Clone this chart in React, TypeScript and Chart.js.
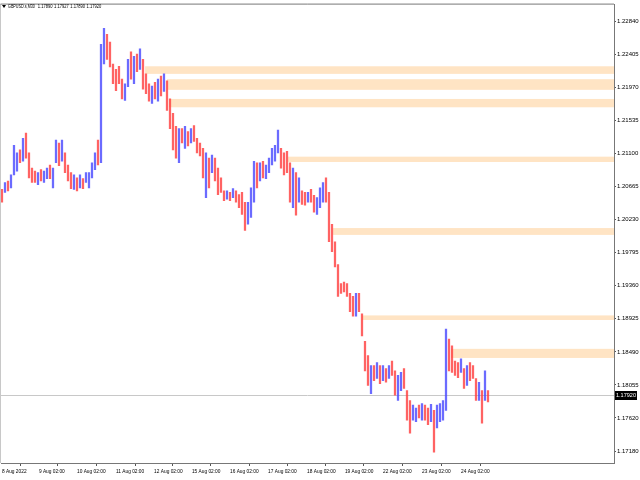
import React, { useEffect, useRef } from "react";
import { Chart, registerables } from "chart.js";

Chart.register(...registerables);

// ---- data (GBPUSD.s, M30, aggregated bars) ----
const highs = [
  1.2063, 1.2072, 1.2074, 1.2082, 1.2121, 1.2111, 1.2115, 1.2130, 1.2137, 1.2111,
  1.2091, 1.2087, 1.2085, 1.2089, 1.2087, 1.2091, 1.2095, 1.2091, 1.2128, 1.2124,
  1.2128, 1.2111, 1.2095, 1.2085, 1.2082, 1.2078, 1.2082, 1.2077, 1.2085, 1.2085,
  1.2098, 1.2111, 1.2128, 1.2254, 1.2275, 1.2267, 1.2257, 1.2228, 1.2221, 1.2225,
  1.2208, 1.2202, 1.2234, 1.2244, 1.2238, 1.2241, 1.2248, 1.2234, 1.2215, 1.2202,
  1.2199, 1.2204, 1.2208, 1.2212, 1.2215, 1.2206, 1.2182, 1.2163, 1.2146, 1.2143,
  1.2143, 1.2146, 1.2139, 1.2143, 1.2147, 1.2130, 1.2124, 1.2117, 1.2111, 1.2104,
  1.2108, 1.2104, 1.2091, 1.2078, 1.2061, 1.2061, 1.2059, 1.2064, 1.2061, 1.2056,
  1.2059, 1.2046, 1.2046, 1.2065, 1.2100, 1.2098, 1.2098, 1.2100, 1.2095, 1.2104,
  1.2117, 1.2121, 1.2141, 1.2117, 1.2111, 1.2113, 1.2098, 1.2091, 1.2085, 1.2078,
  1.2061, 1.2059, 1.2059, 1.2063, 1.2055, 1.2052, 1.2065, 1.2072, 1.2078, 1.2059,
  1.2017, 1.1994, 1.1964, 1.1939, 1.1941, 1.1939, 1.1926, 1.1922, 1.1926, 1.1926,
  1.1899, 1.1863, 1.1844, 1.1831, 1.1831, 1.1835, 1.1831, 1.1831, 1.1827, 1.1831,
  1.1837, 1.1824, 1.1818, 1.1822, 1.1827, 1.1798, 1.1785, 1.1779, 1.1775, 1.1779,
  1.1781, 1.1779, 1.1775, 1.1780, 1.1772, 1.1779, 1.1781, 1.1785, 1.1879, 1.1866,
  1.1857, 1.1837, 1.1835, 1.1840, 1.1827, 1.1831, 1.1835, 1.1831, 1.1814, 1.1809,
  1.1798, 1.1824, 1.1798,
];
const lows = [
  1.2046, 1.2059, 1.2061, 1.2065, 1.2082, 1.2087, 1.2098, 1.2100, 1.2104, 1.2078,
  1.2072, 1.2072, 1.2069, 1.2074, 1.2072, 1.2077, 1.2077, 1.2065, 1.2098, 1.2094,
  1.2100, 1.2085, 1.2074, 1.2064, 1.2063, 1.2061, 1.2065, 1.2064, 1.2072, 1.2065,
  1.2078, 1.2089, 1.2095, 1.2098, 1.2228, 1.2234, 1.2224, 1.2202, 1.2193, 1.2202,
  1.2182, 1.2180, 1.2198, 1.2208, 1.2202, 1.2218, 1.2221, 1.2195, 1.2189, 1.2179,
  1.2176, 1.2182, 1.2179, 1.2186, 1.2192, 1.2167, 1.2143, 1.2115, 1.2104, 1.2098,
  1.2124, 1.2117, 1.2120, 1.2124, 1.2126, 1.2111, 1.2107, 1.2078, 1.2052, 1.2065,
  1.2085, 1.2074, 1.2056, 1.2059, 1.2048, 1.2050, 1.2048, 1.2052, 1.2046, 1.2039,
  1.2030, 1.2009, 1.2017, 1.2026, 1.2046, 1.2065, 1.2074, 1.2078, 1.2077, 1.2085,
  1.2095, 1.2100, 1.2111, 1.2091, 1.2082, 1.2085, 1.2046, 1.2039, 1.2029, 1.2046,
  1.2043, 1.2042, 1.2046, 1.2046, 1.2033, 1.2030, 1.2039, 1.2046, 1.2046, 1.1994,
  1.1981, 1.1961, 1.1922, 1.1926, 1.1928, 1.1922, 1.1902, 1.1896, 1.1896, 1.1902,
  1.1870, 1.1824, 1.1805, 1.1794, 1.1811, 1.1814, 1.1807, 1.1811, 1.1809, 1.1814,
  1.1818, 1.1792, 1.1785, 1.1798, 1.1801, 1.1759, 1.1742, 1.1759, 1.1757, 1.1762,
  1.1759, 1.1759, 1.1753, 1.1757, 1.1717, 1.1749, 1.1757, 1.1759, 1.1772, 1.1824,
  1.1822, 1.1818, 1.1815, 1.1822, 1.1801, 1.1805, 1.1811, 1.1814, 1.1785, 1.1785,
  1.1755, 1.1785, 1.1783,
];
const closes = [
  1.2059, 1.2068, 1.2065, 1.2078, 1.2098, 1.2104, 1.2100, 1.2124, 1.2111, 1.2085,
  1.2082, 1.2078, 1.2082, 1.2078, 1.2085, 1.2087, 1.2082, 1.2085, 1.2117, 1.2104,
  1.2111, 1.2091, 1.2078, 1.2072, 1.2076, 1.2069, 1.2074, 1.2072, 1.2078, 1.2082,
  1.2091, 1.2104, 1.2098, 1.2234, 1.2254, 1.2248, 1.2228, 1.2215, 1.2208, 1.2204,
  1.2189, 1.2195, 1.2228, 1.2221, 1.2234, 1.2228, 1.2231, 1.2202, 1.2195, 1.2189,
  1.2192, 1.2186, 1.2202, 1.2195, 1.2202, 1.2176, 1.2150, 1.2137, 1.2124, 1.2137,
  1.2130, 1.2139, 1.2126, 1.2137, 1.2130, 1.2117, 1.2111, 1.2085, 1.2098, 1.2091,
  1.2100, 1.2078, 1.2065, 1.2059, 1.2055, 1.2059, 1.2052, 1.2059, 1.2052, 1.2048,
  1.2039, 1.2033, 1.2039, 1.2059, 1.2091, 1.2085, 1.2091, 1.2087, 1.2091, 1.2098,
  1.2111, 1.2113, 1.2117, 1.2104, 1.2091, 1.2087, 1.2059, 1.2078, 1.2052, 1.2055,
  1.2052, 1.2048, 1.2056, 1.2051, 1.2039, 1.2046, 1.2059, 1.2065, 1.2052, 1.2000,
  1.1987, 1.1968, 1.1935, 1.1934, 1.1931, 1.1925, 1.1915, 1.1902, 1.1918, 1.1909,
  1.1876, 1.1837, 1.1818, 1.1824, 1.1822, 1.1827, 1.1814, 1.1824, 1.1818, 1.1824,
  1.1822, 1.1805, 1.1811, 1.1818, 1.1805, 1.1772, 1.1766, 1.1769, 1.1772, 1.1766,
  1.1775, 1.1772, 1.1762, 1.1769, 1.1759, 1.1766, 1.1772, 1.1779, 1.1857, 1.1844,
  1.1831, 1.1827, 1.1824, 1.1831, 1.1811, 1.1822, 1.1818, 1.1815, 1.1792, 1.1796,
  1.1766, 1.1805, 1.1792,
];
const firstOpen = 1.2063;

const dayLabels = [
  "8 Aug 2022", "9 Aug 02:00", "10 Aug 02:00", "11 Aug 02:00", "12 Aug 02:00",
  "15 Aug 02:00", "16 Aug 02:00", "17 Aug 02:00", "18 Aug 02:00", "19 Aug 02:00",
  "22 Aug 02:00", "23 Aug 02:00", "24 Aug 02:00",
];
const dayTickPos = [0, 12.3, 25, 38, 50.7, 63.3, 76, 88.7, 101.7, 114.3, 127, 140, 153];

const priceTicks = [
  1.2284, 1.22405, 1.2197, 1.21535, 1.211, 1.20665, 1.2023,
  1.19795, 1.1936, 1.18925, 1.1849, 1.18055, 1.1762, 1.1718,
];
const priceTickLabels = [
  "1.22840", "1.22405", "1.21970", "1.21535", "1.21100", "1.20665", "1.20230",
  "1.19795", "1.19360", "1.18925", "1.18490", "1.18055", "1.17620", "1.17180",
];

const zoneStart = [47.7, 55, 55.7, 95.3, 110.3, 120, 149.7];
const zoneTop = [1.2225, 1.2208, 1.2182, 1.2106, 1.2012, 1.1897, 1.1853];
const zoneBottom = [1.2215, 1.2194, 1.2171, 1.2099, 1.2003, 1.1891, 1.1841];

const headerSymbol = "GBPUSD.s,M30";
const headerValues = ["1.17890", "1.17927", "1.17890", "1.17920"];
const lastPrice = 1.1792;
const lastPriceLabel = "1.17920";

const FONT = "'Liberation Sans', Arial, sans-serif";
const UP = "rgba(70,70,255,0.8)";
const DOWN = "rgba(255,60,60,0.8)";
const ZONE = "#FFE4C4";

function squeezeText(ctx: CanvasRenderingContext2D, text: string, x: number, y: number, sx: number) {
  ctx.save();
  ctx.translate(x, y);
  ctx.scale(sx, 1);
  ctx.fillText(text, 0, 0);
  const w = ctx.measureText(text).width * sx;
  ctx.restore();
  return w;
}

const overlayPlugin = {
  id: "mtOverlay",
  beforeDatasetsDraw(chart: any) {
    const { ctx, chartArea, scales } = chart;
    const xs = scales.x;
    const ys = scales.y;
    ctx.save();
    ctx.fillStyle = ZONE;
    zoneStart.forEach((s, k) => {
      const x0 = xs.getPixelForValue(s);
      const yt = ys.getPixelForValue(zoneTop[k]);
      const yb = ys.getPixelForValue(zoneBottom[k]);
      ctx.fillRect(x0, yt, chartArea.right - x0, yb - yt);
    });
    const yl = Math.round(ys.getPixelForValue(lastPrice)) + 0.5;
    ctx.strokeStyle = "#c8c8c8";
    ctx.lineWidth = 1;
    ctx.beginPath();
    ctx.moveTo(chartArea.left, yl);
    ctx.lineTo(chartArea.right, yl);
    ctx.stroke();
    ctx.restore();
  },
  afterDraw(chart: any) {
    const { ctx, chartArea, scales } = chart;
    const xs = scales.x;
    const ys = scales.y;
    ctx.save();
    // frame top + left
    ctx.strokeStyle = "#c8c8c8";
    ctx.lineWidth = 1;
    ctx.beginPath();
    ctx.moveTo(chartArea.left - 0.5, chartArea.bottom);
    ctx.lineTo(chartArea.left - 0.5, chartArea.top - 0.5);
    ctx.stroke();
    ctx.strokeStyle = "#777";
    ctx.beginPath();
    ctx.moveTo(chartArea.left - 0.5, chartArea.top - 0.5);
    ctx.lineTo(chartArea.right, chartArea.top - 0.5);
    ctx.stroke();

    // time axis labels (condensed, left-aligned at tick)
    ctx.fillStyle = "#000";
    ctx.textBaseline = "middle";
    ctx.textAlign = "left";
    ctx.font = "6px " + FONT;
    xs.ticks.forEach((t: any, k: number) => {
      const px = xs.getPixelForValue(t.value);
      squeezeText(ctx, dayLabels[k], px, chartArea.bottom + 8, 0.8);
    });

    // header
    ctx.beginPath();
    ctx.moveTo(2, 5);
    ctx.lineTo(6, 5);
    ctx.lineTo(4, 8);
    ctx.closePath();
    ctx.fill();
    ctx.font = "6px " + FONT;
    let hx = 8;
    hx += squeezeText(ctx, headerSymbol, hx, 6.5, 0.62) + 3;
    headerValues.forEach((v) => {
      hx += squeezeText(ctx, v, hx, 6.5, 0.68) + 1.5;
    });

    // last price label
    const yl = Math.round(ys.getPixelForValue(lastPrice));
    ctx.fillStyle = "#000";
    ctx.fillRect(chartArea.right + 1, yl - 4, 22, 9);
    ctx.fillStyle = "#fff";
    ctx.font = "6px " + FONT;
    squeezeText(ctx, lastPriceLabel, chartArea.right + 2, yl + 0.5, 0.92);
    ctx.restore();
  },
};

export default function App() {
  const ref = useRef<HTMLCanvasElement | null>(null);
  useEffect(() => {
    document.body.style.margin = "0";
    const canvas = ref.current;
    if (!canvas) return;
    const opens = closes.map((_, i) => (i === 0 ? firstOpen : closes[i - 1]));
    const colors = closes.map((c, i) => (c >= opens[i] ? UP : DOWN));
    const chart = new Chart(canvas, {
      type: "bar",
      data: {
        datasets: [
          {
            data: highs.map((h, i) => ({ x: i, y: [lows[i], h] })) as any,
            backgroundColor: colors,
            borderWidth: 0,
            barThickness: 1.6,
          },
        ],
      },
      options: {
        responsive: false,
        animation: false,
        devicePixelRatio: 1,
        layout: { padding: { top: 1, left: 1, right: 0, bottom: 0 } },
        plugins: { legend: { display: false }, tooltip: { enabled: false } },
        scales: {
          x: {
            type: "linear",
            min: -0.33,
            max: 204,
            offset: false,
            afterBuildTicks: (s: any) => {
              s.ticks = dayTickPos.map((v) => ({ value: v }));
            },
            afterFit: (s: any) => {
              s.height = 17;
            },
            grid: { drawOnChartArea: false, drawTicks: true, tickLength: 3, color: "#555" },
            border: { display: true, color: "#777" },
            ticks: {
              display: false,
              autoSkip: false,
              maxRotation: 0,
              minRotation: 0,
              callback: (_v: any, idx: number) => dayLabels[idx],
            },
          },
          y: {
            type: "linear",
            position: "right",
            min: 1.17027,
            max: 1.23062,
            afterBuildTicks: (s: any) => {
              s.ticks = priceTicks.map((v) => ({ value: v }));
            },
            afterFit: (s: any) => {
              s.width = 26;
            },
            grid: { drawOnChartArea: false, drawTicks: true, tickLength: 2, color: "#555" },
            border: { display: true, color: "#777" },
            ticks: {
              padding: 1,
              color: "#000",
              font: { size: 6, family: FONT },
              callback: (_v: any, idx: number) => priceTickLabels[idx],
            },
          },
        },
      },
      plugins: [overlayPlugin],
    });
    return () => chart.destroy();
  }, []);
  return (
    <div style={{ width: 640, height: 480, background: "#fff" }}>
      <canvas ref={ref} width={640} height={480} style={{ display: "block", width: 640, height: 480 }} />
    </div>
  );
}
